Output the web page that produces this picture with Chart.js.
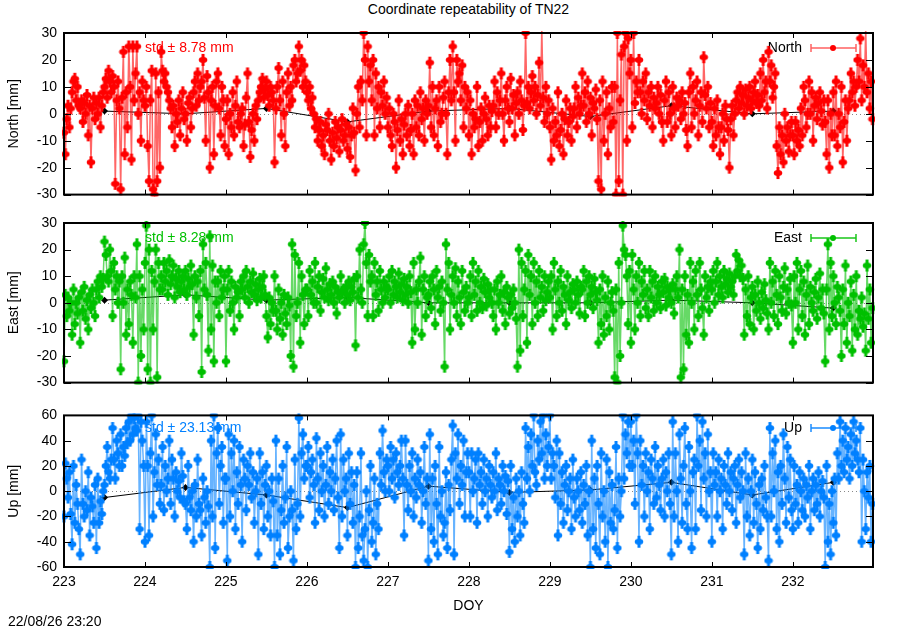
<!DOCTYPE html>
<html><head><meta charset="utf-8">
<script src="https://cdn.jsdelivr.net/npm/chart.js@4/dist/chart.umd.min.js"></script>
<style>
html,body{margin:0;padding:0;background:#fff;width:900px;height:630px;overflow:hidden;font-family:"Liberation Sans",Arial,sans-serif;}
canvas{position:absolute;left:0;}
#title{position:absolute;left:64px;width:809px;top:1px;text-align:center;font-size:14px;color:#000;}
#stamp{position:absolute;left:8px;top:613px;font-size:14px;color:#000;}
</style></head><body>
<div id="title">Coordinate repeatability of TN22</div>
<canvas id="cN" width="900" height="210" style="top:0px"></canvas>
<canvas id="cE" width="900" height="198" style="top:200px"></canvas>
<canvas id="cU" width="900" height="215" style="top:400px"></canvas>
<div id="stamp">22/08/26 23:20</div>
<script>
// ---- data: 60 samples per day, DOY 223..233 ----
const firstDoy = 223;
const samplesPerDay = 60;
const northValues = [
-7,-15,-2,3,-5,2, 8,12,13,5,10,3, 2,5,-3,4,0,7, -8,3,-18,2,6,-2, 4,0,6,-5,3,8, 10,13,6,16,12,8, 14,10,-26,5,12,2, -28,6,23,-15,8,-5, 25,10,-17,25,5,15, 25,0,8,-10,12,5,
3,10,-12,-25,5,16, -28,-30,15,-25,8,-20, 23,16,12,15,10,8, 5,2,-5,3,-12,0, -3,5,-8,2,8,-2, 0,-10,4,6,-5,2, 8,12,3,15,5,10, 12,20,6,-10,14,8, -20,5,10,-15,3,12, 15,2,-8,10,5,-12,
-2,5,-15,0,-5,8, -8,3,12,-3,-5,0, 2,-12,-4,6,15,-3, -16,-6,0,-10,3,-2, 5,8,10,13,6,9, 12,7,3,10,8,5, -18,2,10,17,5,-8, 12,0,-12,8,15,3, 10,5,18,20,12,15, 25,16,20,10,18,12,
8,5,10,2,6,0, -5,-2,-10,-6,-3,-12, -8,-15,-4,-6,0,-10, -17,-7,-12,-3,-9,-5, -14,-6,-2,-10,-8,-4, -13,-5,-16,-8,2,-7, -21,0,10,-5,12,5, 30,20,-8,25,12,18, 5,20,-8,15,2,10, -5,8,3,12,0,6,
-5,2,-8,-12,0,-3, -20,-6,5,-10,-2,-15, -4,0,-8,3,-12,-6, 0,-15,5,-5,3,-8, 8,-2,2,-10,5,0, 3,19,-5,10,-8,2, 5,-12,10,-3,0,6, 12,0,-15,8,20,5, 25,8,-10,20,12,15, 5,18,-5,10,2,8,
-8,5,-15,0,-5,-2, 10,-12,-3,2,-10,0, 6,-2,-8,3,-5,1, 3,12,-5,8,0,5, 15,0,-10,5,10,2, -3,13,2,7,-8,4, 8,0,12,5,-6,3, 30,4,10,2,8,14, 5,10,0,7,19,3, 32,6,-3,10,0,5,
-5,-17,2,-10,-3,-8, 8,-12,-6,0,-15,-2, 5,-8,-3,2,-10,-1, 2,10,-5,6,0,3, 15,3,8,-3,12,0, 6,-8,4,2,9,-2, -25,5,-28,12,-10,0, 8,-15,2,-5,10,-3, 10,-30,30,-25,5,22, -30,25,30,-10,28,15,
20,-5,30,4,12,8, 20,8,0,12,5,15, -2,8,3,10,-5,6, 2,4,10,0,7,-3, -10,5,12,-3,8,0, -8,10,2,-5,6,3, 5,-2,8,0,4,-6, -12,8,15,-5,10,0, 5,12,-8,3,8,-3, 21,7,2,10,-5,4,
-3,-12,2,-8,5,-5, -15,-5,0,-10,3,-2, -6,-20,-2,3,-8,0, 5,8,2,10,4,7, 0,9,3,6,10,2, 5,8,12,4,7,3, 15,5,20,8,12,2, 23,12,18,6,10,15, -12,-22,-5,-15,-8,-18, 0,-10,-5,-14,-8,-3,
-8,-15,-3,-10,-6,-12, 2,-8,10,5,-5,0, 12,0,8,-10,3,6, -2,4,8,1,-4,5, -3,-15,5,-20,0,-8, 8,-8,12,-12,0,-5, 10,-18,-3,5,-10,2, 5,15,8,12,3,10, 20,12,28,5,18,10, 32,8,15,2,12,-2
];
const eastValues = [
-22,3,-5,2,-3,0, -12,5,-8,0,-4,2, -15,4,-3,6,-6,1, -10,3,-2,5,0,-5, 5,8,2,10,6,9, 23,18,10,8,20,12, -5,15,5,10,0,8, -25,10,0,17,-12,5, -8,8,3,-15,10,2, 22,-30,10,-20,5,-10,
15,29,-25,20,-30,12, -10,8,20,-28,15,5, 10,5,15,8,12,3, 16,7,10,14,2,9, 6,12,4,8,10,5, 12,3,9,6,14,7, -12,10,2,8,-5,12, -26,22,5,15,3,-18, 25,-10,14,-22,8,0, 8,-5,12,2,5,10,
-22,5,12,-3,8,0, -10,6,2,4,-5,8, 5,10,2,12,6,0, 8,4,11,3,7,1, 5,9,2,6,10,3, -5,-13,2,-8,0,-3, 10,-3,-10,5,-6,0, -12,3,-4,-8,2,-1, -20,22,-24,18,-5,0, 15,-15,10,3,-8,5,
5,-5,12,3,8,0, 15,0,6,10,-3,4, 9,2,13,5,1,7, 3,8,0,6,-4,4, 2,10,4,5,0,6, 3,8,1,6,4,9, -16,10,2,20,5,0, 22,30,15,-5,18,8, 10,-5,15,3,8,-3, 12,5,0,8,2,6,
5,10,0,12,3,8, 6,2,11,4,7,1, 9,3,6,0,10,4, -15,15,-10,5,0,8, 17,-12,5,10,-5,2, 3,8,-2,10,5,-8, 12,2,6,-3,8,0, -24,22,5,15,-10,3, 10,0,13,-5,8,2, -8,12,4,-3,6,0,
2,10,-5,15,3,8, -3,12,0,6,-2,9, 4,-1,7,2,5,0, -5,5,-10,8,0,3, 10,-3,4,-8,6,2, -4,3,-2,5,0,-6, -24,20,-18,15,-5,5, 12,-15,18,3,10,-8, 15,0,8,-5,12,2, 6,-3,10,1,4,8,
2,10,-10,15,5,-5, 8,0,12,-3,6,3, -8,10,1,4,-2,7, 5,0,8,3,-4,6, 5,12,-5,8,0,10, 3,6,-2,9,4,1, -15,5,-8,10,-12,2, -5,8,-10,0,4,-3, -28,5,-30,15,-20,0, 29,20,18,10,-8,12,
-15,18,5,-10,10,0, 15,-5,8,3,12,-2, 5,-5,12,2,8,-3, 10,0,6,3,-2,8, 4,9,-1,6,2,5, 0,7,-4,5,10,2, 20,-28,5,-25,10,-12, 3,-15,15,0,8,-10, 12,3,-5,15,5,-2, -12,10,2,6,-3,8,
5,12,0,8,15,3, 10,6,2,12,7,9, 4,11,6,8,3,10, 18,12,16,10,14,9, -12,5,-5,10,-8,2, 6,-10,3,-3,8,0, -6,4,-2,7,1,-4, -10,15,0,8,-5,12, 3,-8,10,2,-3,6, 13,-4,5,0,9,-1,
-15,10,0,15,-10,5, 12,-5,8,-12,3,14, -8,6,0,-3,4,9, -6,2,11,-2,5,-4, -22,5,22,-10,15,-5, 10,0,-8,6,2,-3, -20,5,-8,14,-15,0, -5,8,-18,3,-10,10, -12,-3,-6,2,-9,-4, -18,14,-6,5,-15,-2
];
const upValues = [
-20,22,10,-5,15,-18, -42,20,-25,5,-10,-30, -50,25,-10,-20,0,-15, 15,-35,-5,-12,-25,5, -45,10,-25,-8,-18,0, 5,20,35,15,10,25, 50,25,10,40,30,20, 45,20,35,28,50,38, 55,40,60,45,58,50, 48,60,-30,55,40,20,
-40,55,20,-35,30,60, -20,15,45,5,25,-10, 5,35,-15,20,0,10, 40,-10,25,10,-20,15, 0,8,-5,30,12,-8, -10,-30,20,-5,-15,0, -40,5,-20,25,-10,-15, -35,10,-5,-25,0,-12, -60,40,-20,60,-45,30, 50,-10,20,35,-25,10,
10,-55,45,-20,30,0, 40,-30,15,-10,35,5, -40,25,10,-15,20,5, 30,-5,15,-25,0,10, -50,30,-10,15,-30,5, 20,-20,0,-35,10,-8, -60,40,-35,10,-50,-15, 20,-25,-5,35,-45,-20, 0,-15,-55,25,-30,-10, 58,-20,30,45,10,20,
20,35,-5,15,25,5, -25,42,10,-15,30,0, 20,-20,5,35,-10,15, 0,25,-15,10,40,-5, -45,45,-20,25,0,10, -35,30,-10,15,-25,5, -60,15,-45,-20,30,-35, -55,-30,0,-60,-15,20, -40,-25,10,-50,-10,-30, 30,5,48,15,0,25,
20,0,35,10,25,-5, 30,15,5,20,40,10, -35,40,5,-15,20,0, 30,-20,10,-5,25,5, 15,-25,0,35,-10,10, -55,45,-30,10,-40,20, -10,-50,35,-20,0,-35, -25,15,-45,5,-15,25, 52,-50,30,10,45,-10, 20,5,40,-20,15,30,
15,-20,30,0,10,25, -25,30,5,15,-10,25, 0,10,-20,20,5,-5, 15,0,30,-15,10,5, -10,20,0,12,-18,8, -48,20,-30,-5,-40,10, -20,0,-35,15,-10,-25, 50,10,35,0,45,20, 60,15,5,40,25,55, 30,60,10,45,20,35,
60,10,30,20,-5,40, -35,30,-10,15,-25,5, 20,-15,0,10,-30,25, -5,-20,10,0,-15,15, -25,5,-10,20,-35,0, -60,40,-30,10,-45,20, -10,-50,30,-20,0,-40, 25,-60,15,-25,5,-30, -15,35,-45,10,-20,0, 60,10,45,30,55,20,
55,20,40,-10,60,30, -40,40,5,20,-20,30, 0,15,-30,25,10,-10, 35,-5,20,5,-15,10, 25,-20,15,0,30,-10, -50,55,-20,30,0,-40, 45,10,-25,20,50,-10, -30,35,0,-45,15,25, -30,60,20,40,-15,55, 10,30,-20,45,0,15,
-40,30,5,15,-20,25, 0,10,-30,20,5,-10, 30,0,15,-15,10,20, -25,5,25,-5,15,0, -50,30,-20,10,-35,0, 25,-25,15,-10,-45,5, -30,10,-15,20,-5,-20, -55,50,-20,30,0,40, -30,15,-40,20,-10,45, 10,-25,35,-5,25,-15,
-30,20,-10,5,-25,15, 0,-15,10,-20,5,-5, 20,-30,0,10,-15,5, -10,15,-20,0,8,-5, -60,20,-40,-10,-50,0, -25,10,-35,30,10,55, 20,40,15,50,25,35, 10,45,20,55,30,40, 25,15,50,-40,25,0, -30,15,-5,20,-40,-10
];
const meanDoy = [223.5,224.5,225.5,226.5,227.5,228.5,229.5,230.5,231.5,232.5];
const northMeans = [1,0,2,-3,1,2,-1,3,0,1];
const eastMeans = [1,3,1,2,0,0,0,1,0,-2];
const upMeans = [-5,3,-3,-13,4,-1,1,7,-3,7];
const xTickRange = [223, 232.99];
const neTicks = [-30, 30, 10];
const upTicks = [-60, 60, 20];

function pts(vals){ return vals.map((v,i)=>({x: firstDoy + i/samplesPerDay, y: v})); }
function mpts(vals){ return vals.map((v,i)=>({x: meanDoy[i], y: v})); }

const FONT = '"Liberation Sans", Arial, sans-serif';

// marker: filled blob with a short vertical error bar (gnuplot yerrorlines look)
function marker(color){
  const c = document.createElement('canvas');
  c.width = 10; c.height = 14;
  const g = c.getContext('2d');
  g.fillStyle = color;
  g.fillRect(3.5, 1, 3, 12);
  g.beginPath(); g.ellipse(5, 7, 4.3, 3.0, 0, 0, Math.PI*2); g.fill();
  return c;
}

const decor = {
  id: 'decor',
  beforeDatasetsDraw(chart, args, o){
    const {ctx, chartArea:a, scales:{y}} = chart;
    ctx.save();
    ctx.strokeStyle = '#888'; ctx.lineWidth = 1; ctx.setLineDash([1,3]);
    const y0 = Math.round(y.getPixelForValue(0)) + 0.5;
    ctx.beginPath(); ctx.moveTo(a.left, y0); ctx.lineTo(a.right, y0); ctx.stroke();
    ctx.setLineDash([]);
    ctx.font = '14px ' + FONT; ctx.textBaseline = 'middle';
    ctx.fillStyle = o.color; ctx.textAlign = 'left';
    ctx.fillText(o.std, 145, o.textY);
    ctx.fillStyle = '#000'; ctx.textAlign = 'right';
    ctx.fillText(o.key, 802, o.textY);
    ctx.strokeStyle = o.keyLine; ctx.lineWidth = 1.5;
    const ky = o.textY;
    ctx.beginPath();
    ctx.moveTo(811, ky); ctx.lineTo(856, ky);
    ctx.moveTo(811, ky-4); ctx.lineTo(811, ky+4);
    ctx.moveTo(856, ky-4); ctx.lineTo(856, ky+4);
    ctx.stroke();
    ctx.fillStyle = o.color;
    ctx.beginPath(); ctx.arc(833, ky, 3, 0, Math.PI*2); ctx.fill();
    ctx.restore();
  },
  afterDraw(chart){
    const {ctx, chartArea:a, scales:{x,y}} = chart;
    ctx.save();
    ctx.strokeStyle = '#000'; ctx.lineWidth = 1;
    ctx.beginPath();
    y.ticks.forEach(t=>{
      const p = Math.round(y.getPixelForValue(t.value)) + 0.5;
      ctx.moveTo(a.left, p); ctx.lineTo(a.left+7, p);
      ctx.moveTo(a.right, p); ctx.lineTo(a.right-7, p);
    });
    x.ticks.forEach(t=>{
      const p = Math.round(x.getPixelForValue(t.value)) + 0.5;
      ctx.moveTo(p, a.bottom); ctx.lineTo(p, a.bottom-5);
      ctx.moveTo(p, a.top); ctx.lineTo(p, a.top+5);
    });
    ctx.stroke();
    ctx.lineWidth = 2;
    ctx.strokeRect(a.left, a.top, a.right-a.left, a.bottom-a.top);
    ctx.restore();
  }
};

function makeChart(id, vals, means, color, line, title, ticks, padTop, xHeight, showX, deco){
  return new Chart(document.getElementById(id), {
    type: 'line',
    data: { datasets: [
      { data: pts(vals), borderColor: line, borderWidth: 1.5, pointRadius: 4, pointHoverRadius: 4,
        pointBackgroundColor: color, pointBorderWidth: 0, pointStyle: marker(color), order: 1, clip: 2 },
      { data: mpts(means), borderColor: '#000', borderWidth: 1, pointRadius: 3.5, pointStyle: 'rectRot',
        pointBackgroundColor: '#000', pointBorderWidth: 0, order: 2, clip: 2 }
    ]},
    options: {
      responsive: false, animation: false, events: [],
      layout: { padding: { top: padTop, right: 27, left: 0, bottom: 0 } },
      plugins: { legend: { display: false }, tooltip: { enabled: false }, decor: deco },
      scales: {
        x: { type: 'linear', min: xTickRange[0], max: xTickRange[1],
          grid: { display: false, drawTicks: false }, border: { display: false },
          ticks: { display: showX, stepSize: 1, padding: 7, color: '#000', font: { size: 14, family: FONT },
                   maxRotation: 0, callback: v => String(v) },
          afterBuildTicks: s => { s.ticks = s.ticks.filter(t => Number.isInteger(t.value)); },
          title: { display: showX, text: 'DOY', color: '#000', font: { size: 14, family: FONT }, padding: { top: 4, bottom: 0 } },
          afterFit: s => { s.height = xHeight; } },
        y: { min: ticks[0], max: ticks[1],
          grid: { display: false, drawTicks: false }, border: { display: false },
          ticks: { stepSize: ticks[2], padding: 7, color: '#000', font: { size: 14, family: FONT } },
          title: { display: true, text: title, color: '#000', font: { size: 14, family: FONT }, padding: { top: 6, bottom: 0 } },
          afterFit: s => { s.width = 64; } }
      }
    },
    plugins: [decor]
  });
}

makeChart('cN', northValues, northMeans, '#ff0000', 'rgba(255,0,0,0.6)', 'North [mm]', neTicks, 33, 7, false,
  { color: '#ff0000', std: 'std \u00b1 8.78 mm', key: 'North', keyLine: 'rgba(255,80,80,0.9)', textY: 48 });
makeChart('cE', eastValues, eastMeans, '#00c000', 'rgba(0,192,0,0.6)', 'East [mm]', neTicks, 23, 8, false,
  { color: '#00c000', std: 'std \u00b1 8.28 mm', key: 'East', keyLine: 'rgba(0,192,0,0.9)', textY: 38 });
makeChart('cU', upValues, upMeans, '#0080ff', 'rgba(0,128,255,0.6)', 'Up [mm]', upTicks, 12, 48, true,
  { color: '#0080ff', std: 'std \u00b1 23.13 mm', key: 'Up', keyLine: 'rgba(0,128,255,0.9)', textY: 28 });
</script>
</body></html>
